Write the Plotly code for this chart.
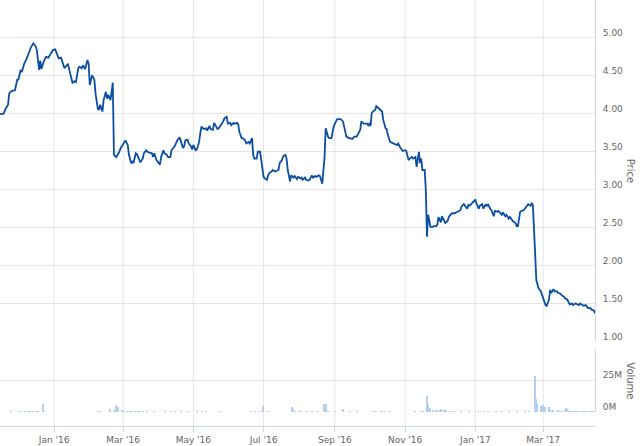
import plotly.graph_objects as go

# ---------------- data ----------------
price_dates = [
    "2015-11-15","2015-11-18","2015-11-20","2015-11-22","2015-11-23","2015-11-25","2015-11-28","2015-11-30",
    "2015-12-01","2015-12-03","2015-12-04","2015-12-06","2015-12-08","2015-12-10","2015-12-12","2015-12-14","2015-12-16","2015-12-17","2015-12-19","2015-12-20","2015-12-21","2015-12-23","2015-12-25","2015-12-27","2015-12-28","2015-12-30","2015-12-31",
    "2016-01-02","2016-01-03","2016-01-05","2016-01-07","2016-01-09","2016-01-10","2016-01-12","2016-01-13","2016-01-15","2016-01-16","2016-01-17","2016-01-19","2016-01-20","2016-01-22","2016-01-23","2016-01-25","2016-01-26","2016-01-28","2016-01-30","2016-01-31",
    "2016-02-01","2016-02-03","2016-02-05","2016-02-06","2016-02-08","2016-02-09","2016-02-10","2016-02-12","2016-02-13","2016-02-15","2016-02-16","2016-02-17","2016-02-19","2016-02-21","2016-02-22","2016-02-24","2016-02-26","2016-02-28",
    "2016-03-01","2016-03-03","2016-03-05","2016-03-06","2016-03-08","2016-03-09","2016-03-10","2016-03-12","2016-03-13","2016-03-15","2016-03-16","2016-03-18","2016-03-19","2016-03-21","2016-03-22","2016-03-24","2016-03-26","2016-03-27","2016-03-28","2016-03-30","2016-03-31",
    "2016-04-02","2016-04-03","2016-04-05","2016-04-06","2016-04-08","2016-04-09","2016-04-11","2016-04-12","2016-04-14","2016-04-15","2016-04-17","2016-04-19","2016-04-20","2016-04-22","2016-04-23","2016-04-24","2016-04-26","2016-04-27","2016-04-29","2016-04-30",
    "2016-05-01","2016-05-03","2016-05-04","2016-05-06","2016-05-07","2016-05-08","2016-05-10","2016-05-12","2016-05-13","2016-05-15","2016-05-16","2016-05-18","2016-05-19","2016-05-21","2016-05-22","2016-05-23","2016-05-25","2016-05-27","2016-05-28","2016-05-30","2016-05-31",
    "2016-06-02","2016-06-03","2016-06-05","2016-06-06","2016-06-08","2016-06-09","2016-06-10","2016-06-12","2016-06-13","2016-06-15","2016-06-16","2016-06-18","2016-06-19","2016-06-21","2016-06-22","2016-06-23","2016-06-25","2016-06-26","2016-06-28","2016-06-29",
    "2016-07-01","2016-07-02","2016-07-04","2016-07-05","2016-07-06","2016-07-08","2016-07-09","2016-07-11","2016-07-12","2016-07-14","2016-07-15","2016-07-17","2016-07-18","2016-07-20","2016-07-21","2016-07-22","2016-07-24","2016-07-25","2016-07-27","2016-07-28","2016-07-30","2016-07-31",
    "2016-08-02","2016-08-03","2016-08-04","2016-08-06","2016-08-07","2016-08-09","2016-08-10","2016-08-12","2016-08-13","2016-08-15","2016-08-16","2016-08-18","2016-08-19","2016-08-20","2016-08-21","2016-08-23","2016-08-24","2016-08-26","2016-08-27","2016-08-29","2016-08-30","2016-08-31",
    "2016-09-02","2016-09-03","2016-09-05","2016-09-06","2016-09-08","2016-09-09","2016-09-11","2016-09-13","2016-09-14","2016-09-16","2016-09-17","2016-09-18","2016-09-20","2016-09-21","2016-09-23","2016-09-24","2016-09-26","2016-09-27","2016-09-29","2016-09-30",
    "2016-10-01","2016-10-02","2016-10-03","2016-10-04","2016-10-06","2016-10-07","2016-10-09","2016-10-10","2016-10-12","2016-10-13","2016-10-15","2016-10-16","2016-10-17","2016-10-19","2016-10-20","2016-10-22","2016-10-23","2016-10-25","2016-10-26","2016-10-28","2016-10-29","2016-10-30",
    "2016-11-01","2016-11-02","2016-11-04","2016-11-05","2016-11-07","2016-11-08","2016-11-10","2016-11-11","2016-11-13","2016-11-14","2016-11-15","2016-11-16","2016-11-18","2016-11-19","2016-11-20","2016-11-21","2016-11-22","2016-11-23","2016-11-25","2016-11-26","2016-11-28","2016-11-29","2016-11-30",
    "2016-12-02","2016-12-03","2016-12-05","2016-12-06","2016-12-08","2016-12-09","2016-12-11","2016-12-12","2016-12-14","2016-12-15","2016-12-16","2016-12-18","2016-12-19","2016-12-20","2016-12-22","2016-12-23","2016-12-25","2016-12-26","2016-12-27","2016-12-29","2016-12-30",
    "2017-01-01","2017-01-02","2017-01-04","2017-01-05","2017-01-07","2017-01-08","2017-01-10","2017-01-11","2017-01-12","2017-01-14","2017-01-15","2017-01-17","2017-01-18","2017-01-20","2017-01-21","2017-01-23","2017-01-24","2017-01-25","2017-01-27","2017-01-28","2017-01-30","2017-01-31",
    "2017-02-02","2017-02-03","2017-02-05","2017-02-06","2017-02-07","2017-02-09","2017-02-10","2017-02-12","2017-02-13","2017-02-15","2017-02-16","2017-02-18","2017-02-19","2017-02-20","2017-02-21","2017-02-22","2017-02-23","2017-02-24","2017-02-25","2017-02-27","2017-02-28",
    "2017-03-01","2017-03-02","2017-03-03","2017-03-04","2017-03-06","2017-03-07","2017-03-08","2017-03-10","2017-03-11","2017-03-13","2017-03-14","2017-03-16","2017-03-17","2017-03-19","2017-03-20","2017-03-22","2017-03-23","2017-03-24","2017-03-26","2017-03-27","2017-03-29","2017-03-30",
    "2017-04-01","2017-04-02","2017-04-04","2017-04-05","2017-04-07","2017-04-08","2017-04-09","2017-04-11","2017-04-12","2017-04-14","2017-04-15",
]

price_values = [
    4.00, 4.00, 4.07, 4.12, 4.27, 4.30, 4.31, 4.45,
    4.45, 4.58, 4.55, 4.66, 4.72, 4.80, 4.88, 4.93, 4.89, 4.84, 4.58, 4.70, 4.59, 4.69, 4.75, 4.74, 4.77, 4.83, 4.84,
    4.85, 4.80, 4.73, 4.74, 4.62, 4.60, 4.64, 4.66, 4.53, 4.45, 4.41, 4.43, 4.42, 4.60, 4.62, 4.60, 4.64, 4.59, 4.71, 4.66,
    4.38, 4.51, 4.45, 4.27, 4.07, 4.05, 4.12, 4.03, 4.18, 4.29, 4.20, 4.25, 4.18, 4.41, 3.46, 3.43, 3.48, 3.55,
    3.61, 3.65, 3.59, 3.46, 3.35, 3.37, 3.35, 3.48, 3.47, 3.39, 3.36, 3.41, 3.48, 3.52, 3.50, 3.49, 3.48, 3.43, 3.48, 3.39, 3.37,
    3.33, 3.43, 3.52, 3.48, 3.46, 3.43, 3.43, 3.52, 3.57, 3.58, 3.65, 3.69, 3.65, 3.55, 3.57, 3.65, 3.66, 3.61, 3.57, 3.53,
    3.59, 3.52, 3.53, 3.63, 3.74, 3.83, 3.80, 3.81, 3.78, 3.84, 3.80, 3.79, 3.88, 3.83, 3.80, 3.81, 3.85, 3.90, 3.94, 3.96, 3.87,
    3.88, 3.85, 3.88, 3.87, 3.88, 3.86, 3.76, 3.68, 3.68, 3.65, 3.61, 3.63, 3.61, 3.68, 3.46, 3.41, 3.41, 3.50, 3.50, 3.39,
    3.17, 3.15, 3.13, 3.19, 3.22, 3.24, 3.26, 3.24, 3.25, 3.26, 3.35, 3.39, 3.44, 3.46, 3.41, 3.26, 3.11, 3.19, 3.16, 3.18, 3.14, 3.17,
    3.15, 3.16, 3.13, 3.16, 3.13, 3.12, 3.13, 3.19, 3.16, 3.18, 3.17, 3.19, 3.18, 3.11, 3.08, 3.43, 3.81, 3.70, 3.68, 3.68, 3.74, 3.84,
    3.90, 3.93, 3.93, 3.93, 3.90, 3.84, 3.70, 3.68, 3.68, 3.67, 3.69, 3.70, 3.70, 3.73, 3.79, 3.90, 3.87, 3.87, 3.87, 3.85,
    3.87, 3.84, 4.01, 4.03, 4.05, 4.10, 4.07, 4.06, 4.03, 3.92, 3.81, 3.80, 3.72, 3.63, 3.62, 3.61, 3.60, 3.59, 3.61, 3.55, 3.53, 3.51,
    3.52, 3.51, 3.39, 3.41, 3.43, 3.41, 3.43, 3.30, 3.50, 3.35, 3.41, 3.26, 3.26, 3.00, 2.38, 2.67, 2.60, 2.51, 2.51, 2.52, 2.52, 2.54, 2.64,
    2.57, 2.65, 2.60, 2.56, 2.59, 2.64, 2.68, 2.69, 2.69, 2.70, 2.71, 2.72, 2.73, 2.78, 2.81, 2.79, 2.75, 2.80, 2.79, 2.82, 2.84,
    2.87, 2.82, 2.75, 2.79, 2.81, 2.75, 2.81, 2.78, 2.81, 2.75, 2.73, 2.65, 2.72, 2.71, 2.72, 2.69, 2.67, 2.70, 2.65, 2.67, 2.62, 2.64,
    2.60, 2.58, 2.56, 2.52, 2.52, 2.71, 2.72, 2.73, 2.75, 2.80, 2.81, 2.79, 2.82, 2.80, 2.53, 2.16, 1.81, 1.73, 1.70, 1.66, 1.61,
    1.57, 1.52, 1.48, 1.47, 1.55, 1.68, 1.64, 1.69, 1.66, 1.66, 1.64, 1.63, 1.61, 1.59, 1.57, 1.55, 1.51, 1.49, 1.50, 1.48, 1.50, 1.49,
    1.48, 1.50, 1.48, 1.47, 1.48, 1.46, 1.44, 1.44, 1.42, 1.41, 1.37,
]

volume_dates = [
    "2015-11-20","2015-11-25","2015-12-02","2015-12-04","2015-12-07","2015-12-09","2015-12-11","2015-12-14","2015-12-16","2015-12-18","2015-12-22","2015-12-23",
    "2016-01-22","2016-02-08","2016-02-10","2016-02-19","2016-02-22","2016-02-24","2016-02-25","2016-02-26","2016-02-29",
    "2016-03-01","2016-03-02","2016-03-04","2016-03-07","2016-03-09","2016-03-11","2016-03-14","2016-03-16","2016-03-18","2016-03-22","2016-03-28",
    "2016-04-06","2016-04-12","2016-04-15","2016-04-20","2016-04-26","2016-05-04","2016-05-09","2016-05-12","2016-05-24",
    "2016-06-20","2016-06-24","2016-06-27","2016-06-30","2016-07-01","2016-07-05","2016-07-26","2016-07-27","2016-07-28",
    "2016-08-01","2016-08-03","2016-08-08","2016-08-12","2016-08-17","2016-08-23","2016-08-24","2016-08-26",
    "2016-09-01","2016-09-08","2016-09-14","2016-09-20","2016-10-04","2016-10-07","2016-10-11","2016-10-14","2016-10-19",
    "2016-11-10","2016-11-14","2016-11-17","2016-11-20","2016-11-21","2016-11-22","2016-11-23","2016-11-25","2016-11-28","2016-11-29",
    "2016-12-01","2016-12-02","2016-12-05","2016-12-07","2016-12-09","2016-12-12","2016-12-14","2016-12-20","2016-12-27",
    "2017-01-03","2017-01-09","2017-01-12","2017-01-19","2017-01-24","2017-01-30","2017-02-06","2017-02-13","2017-02-17",
    "2017-02-22","2017-02-23","2017-02-24","2017-02-27","2017-02-28",
    "2017-03-01","2017-03-02","2017-03-03","2017-03-06","2017-03-07","2017-03-08","2017-03-09","2017-03-10","2017-03-13","2017-03-14","2017-03-15","2017-03-16","2017-03-17",
    "2017-03-20","2017-03-21","2017-03-22","2017-03-23","2017-03-24","2017-03-27","2017-03-28","2017-03-29","2017-03-30","2017-03-31",
    "2017-04-03","2017-04-04","2017-04-05","2017-04-06","2017-04-07","2017-04-10","2017-04-11","2017-04-12","2017-04-13",
]

volume_millions = [
    0.3, 0.4, 1.5, 0.6, 0.8, 0.6, 0.7, 0.5, 0.6, 0.5, 7.0, 0.8,
    0.3, 0.8, 0.4, 3.0, 2.2, 6.0, 3.5, 4.3, 2.0,
    1.2, 1.0, 1.1, 0.9, 1.0, 0.8, 1.0, 0.7, 0.8, 0.5, 0.6,
    0.5, 0.6, 0.5, 0.4, 0.6, 0.6, 0.9, 0.5, 0.4,
    0.4, 0.5, 0.6, 0.7, 5.0, 0.8, 4.0, 2.5, 1.5,
    0.8, 0.6, 0.7, 0.5, 0.6, 6.5, 6.8, 1.0,
    0.6, 3.0, 0.8, 0.4, 0.5, 0.6, 0.5, 0.6, 0.5,
    0.4, 0.6, 0.7, 13.0, 6.0, 3.8, 2.5, 2.2, 2.0, 2.3,
    2.0, 2.4, 1.8, 2.1, 1.5, 1.2, 1.0, 0.6, 0.5,
    0.7, 0.6, 0.5, 1.2, 0.6, 0.5, 0.4, 0.5, 0.6,
    29.0, 10.8, 6.5, 5.0, 3.8,
    6.0, 4.3, 4.3, 4.0, 1.8, 1.5, 1.3, 1.6, 1.4, 1.7, 1.3, 1.5, 1.4,
    1.6, 3.2, 3.0, 2.0, 1.5, 1.2, 1.0, 1.1, 1.0, 1.2,
    1.0, 1.1, 0.9, 1.0, 1.2, 1.0, 1.3, 1.1, 1.4,
]

x_tick_dates = ["2016-01-01", "2016-03-01", "2016-05-01", "2016-07-01",
                "2016-09-01", "2016-11-01", "2017-01-01", "2017-03-01"]
x_tick_labels = ["Jan '16", "Mar '16", "May '16", "Jul '16",
                 "Sep '16", "Nov '16", "Jan '17", "Mar '17"]

price_ticks = [1.0, 1.5, 2.0, 2.5, 3.0, 3.5, 4.0, 4.5, 5.0, 5.5]
price_tick_labels = ["1.00", "1.50", "2.00", "2.50", "3.00", "3.50", "4.00", "4.50", "5.00", ""]

volume_ticks = [0, 25, 50]
volume_tick_labels = ["0M", "25M", ""]

x_range = ["2015-11-15", "2017-04-15"]

assert len(price_dates) == len(price_values)
assert len(volume_dates) == len(volume_millions)

# ---------------- figure ----------------
GRID = "#e6e6e6"
AXLINE = "#ccd6eb"
LABEL = "#666666"
FONT = "DejaVu Sans"

fig = go.Figure()

fig.add_trace(go.Scatter(
    x=price_dates, y=price_values, mode="lines",
    line=dict(color="#0b4ea2", width=1.8),
    xaxis="x", yaxis="y", showlegend=False, hoverinfo="x+y",
))

fig.add_trace(go.Bar(
    x=volume_dates, y=volume_millions,
    marker=dict(color="#b3d0ee", line=dict(width=0)),
    width=86400000 * 1.0,
    xaxis="x2", yaxis="y2", showlegend=False,
))

# vertical grid lines spanning both panes
shapes = []
for d in x_tick_dates:
    shapes.append(dict(type="line", xref="x", yref="paper", x0=d, x1=d, y0=0, y1=1,
                       line=dict(color=GRID, width=1), layer="below"))

fig.update_layout(
    width=640, height=446,
    margin=dict(l=0, r=45, t=0, b=20),
    paper_bgcolor="white", plot_bgcolor="white",
    font=dict(family=FONT, size=9, color=LABEL),
    bargap=0,
    shapes=shapes,
    xaxis=dict(
        domain=[0, 1], anchor="y", range=x_range, type="date",
        showgrid=False, showline=False, zeroline=False, showticklabels=False, ticks="",
    ),
    xaxis2=dict(
        domain=[0, 1], anchor="free", position=0, matches="x", type="date",
        showgrid=False, zeroline=False,
        showline=True, linecolor=AXLINE, linewidth=1,
        ticks="outside", ticklen=5, tickcolor=AXLINE,
        tickmode="array", tickvals=x_tick_dates, ticktext=x_tick_labels,
        tickfont=dict(family=FONT, size=9, color=LABEL),
    ),
    yaxis=dict(
        domain=[0.1984, 1.0], anchor="x", side="right", range=[1.0, 5.5],
        showgrid=True, gridcolor=GRID, gridwidth=1, zeroline=False,
        showline=True, linecolor=AXLINE, linewidth=1,
        tickmode="array", tickvals=price_ticks, ticktext=price_tick_labels,
        ticks="", ticklabelstandoff=5, ticklabelshift=-5,
        tickfont=dict(family=FONT, size=9, color=LABEL),
    ),
    yaxis2=dict(
        domain=[0.0329, 0.1819], anchor="x2", side="right", range=[0, 50],
        showgrid=True, gridcolor=GRID, gridwidth=1, zeroline=False,
        showline=True, linecolor=AXLINE, linewidth=1,
        tickmode="array", tickvals=volume_ticks, ticktext=volume_tick_labels,
        ticks="", ticklabelstandoff=5, ticklabelshift=-5,
        tickfont=dict(family=FONT, size=9, color=LABEL),
    ),
    annotations=[
        dict(text="Price", xref="paper", yref="paper", x=1.059, y=0.599,
             showarrow=False, textangle=90, font=dict(family=FONT, size=10, color=LABEL),
             xanchor="center", yanchor="middle"),
        dict(text="Volume", xref="paper", yref="paper", x=1.059, y=0.107,
             showarrow=False, textangle=90, font=dict(family=FONT, size=10, color=LABEL),
             xanchor="center", yanchor="middle"),
    ],
)

fig.write_html("out.html", config={"displayModeBar": False},
               post_script="document.body.style.margin='0';")
